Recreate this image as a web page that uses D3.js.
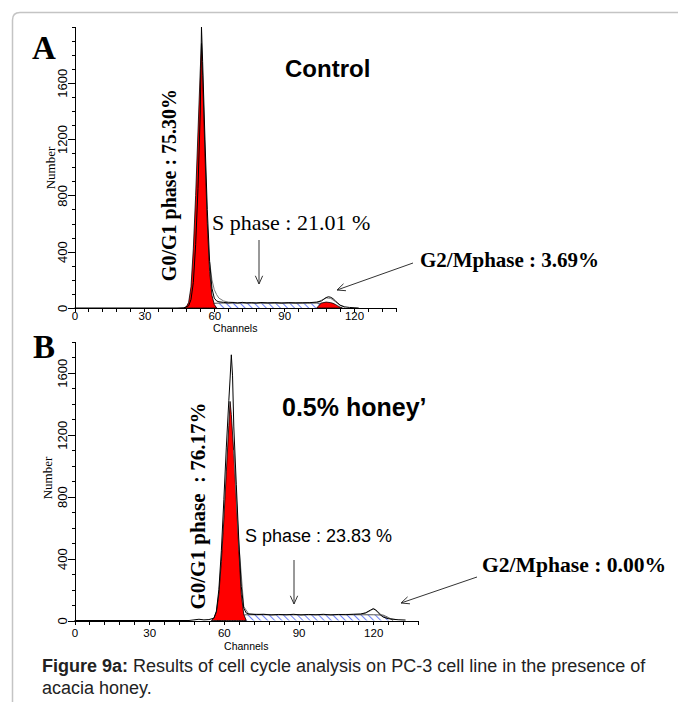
<!DOCTYPE html>
<html>
<head>
<meta charset="utf-8">
<title>Cell cycle histograms</title>
<script src="https://d3js.org/d3.v7.min.js"></script>
<style>
  body { margin: 0; background: #fff; }
  svg { display: block; }
  .axis path, .axis line { stroke: #000; shape-rendering: crispEdges; }
  .axis text { fill: #000; }
  .sans { font-family: "Liberation Sans", Arial, sans-serif; }
  .serif { font-family: "Liberation Serif", "Times New Roman", serif; }
</style>
</head>
<body>
<svg width="678" height="702"></svg>
<script>
// ---- panel A (control) ----
const ctrlDataCh    = [0, 44, 47, 49, 50, 51, 52, 53, 54, 54.5, 55, 56, 57, 58, 59, 60, 61, 62, 64, 66, 68, 70, 72, 74, 76, 78, 80, 83, 86, 89, 92, 95, 98, 101, 104, 106, 107, 108, 109, 110, 111, 112, 113, 114, 116, 118, 120, 122];
const ctrlDataCount = [0, 0, 2, 15, 60, 180, 450, 850, 1400, 1996, 1750, 1200, 700, 330, 140, 70, 50, 44, 40, 36, 39, 35, 40, 36, 38, 35, 39, 36, 38, 35, 38, 36, 37, 38, 42, 50, 62, 74, 80, 76, 66, 50, 35, 20, 8, 4, 2, 0];
const ctrlG1Ch      = [47, 48, 49, 50, 51, 52, 53, 54, 54.5, 55, 56, 57, 58, 59, 60, 61];
const ctrlG1Count   = [0, 8, 40, 150, 420, 800, 1250, 1700, 1880, 1650, 1100, 600, 260, 90, 25, 0];
const ctrlSCh       = [52, 54, 56, 58, 60, 62, 70, 80, 90, 100, 104, 106, 108, 110, 112];
const ctrlSCount    = [0, 5, 15, 27, 33, 35, 35, 35, 35, 35, 35, 33, 25, 10, 0];
const ctrlG2Ch      = [104, 105, 106, 108, 110, 111, 112, 113, 114, 115];
const ctrlG2Count   = [0, 20, 35, 42, 38, 33, 25, 15, 6, 0];
const ctrlFitCh     = [58, 59, 60, 61, 62, 64, 66, 70, 80, 90, 100, 104, 106, 108, 110, 112, 114, 116];
const ctrlFitCount  = [330, 200, 130, 95, 70, 50, 42, 38, 36, 36, 36, 38, 55, 72, 68, 45, 20, 4];

// ---- panel B (0.5% honey) ----
const honeyDataCh    = [0, 46, 48, 50, 52, 54, 56, 57, 58, 59, 60, 61, 62, 62.5, 63, 63.5, 64, 65, 66, 67, 68, 69, 70, 73, 76, 79, 82, 85, 88, 91, 94, 97, 100, 103, 106, 109, 112, 115, 117, 119, 120, 121, 122, 123, 124, 126, 128, 130, 133];
const honeyDataCount = [0, 0, 4, 8, 4, 6, 15, 60, 200, 450, 780, 1120, 1420, 1560, 1716, 1580, 1250, 880, 520, 220, 80, 48, 42, 38, 40, 36, 39, 37, 40, 36, 39, 37, 40, 36, 39, 38, 40, 42, 50, 68, 75, 68, 50, 35, 22, 12, 8, 5, 3];
const honeyG1Ch      = [55, 56, 57, 58, 59, 60, 61, 62, 62.5, 63, 64, 65, 66, 67, 68, 69];
const honeyG1Count   = [0, 15, 55, 170, 380, 650, 960, 1260, 1415, 1330, 1080, 780, 460, 170, 40, 0];
const honeySCh       = [57, 59, 61, 63, 65, 67, 69, 80, 90, 100, 110, 120, 124, 126, 128];
const honeySCount    = [0, 4, 10, 18, 27, 34, 37, 37, 37, 37, 37, 37, 35, 20, 0];
const honeyG2Ch      = [];
const honeyG2Count   = [];
const honeyFitCh     = [64, 66, 68, 70, 80, 100, 115, 117, 119, 120, 121, 123, 125, 127, 129];
const honeyFitCount  = [1100, 500, 90, 42, 38, 38, 40, 48, 65, 78, 70, 40, 20, 12, 6];

const yTickLabels = [0, 400, 800, 1200, 1600];
const xTickLabels = [0, 30, 60, 90, 120];

const zip = (a, b) => a.map((v, i) => [v, b[i]]);

const svg = d3.select("svg");

// hatch pattern for S phase
const defs = svg.append("defs");
defs.append("pattern")
  .attr("id", "hatch")
  .attr("patternUnits", "userSpaceOnUse")
  .attr("width", 5).attr("height", 5)
  .attr("patternTransform", "rotate(-45)")
  .append("line")
  .attr("x1", 0).attr("y1", 0).attr("x2", 0).attr("y2", 5)
  .attr("stroke", "#1c3cf0").attr("stroke-width", 1.3);

// outer frame (only top-left corner visible)
svg.append("path")
  .attr("d", "M12.5,702 L12.5,20 Q12.5,12.5 20,12.5 L678,12.5")
  .attr("fill", "none").attr("stroke", "#c4c4c4").attr("stroke-width", 1.5);

const panels = [
  {
    letter: "A", title: "Control",
    xr: [74.5, 396], yr: [308, 26.5], yMax: 2000, tickPad: 0,
    data: zip(ctrlDataCh, ctrlDataCount), g1: zip(ctrlG1Ch, ctrlG1Count),
    s: zip(ctrlSCh, ctrlSCount), g2: zip(ctrlG2Ch, ctrlG2Count), fit: zip(ctrlFitCh, ctrlFitCount),
    letterPos: [32, 59], titlePos: [285, 77], titleSize: 24,
    numberPos: [55, 168], channelsY: 332,
    g1Text: "G0/G1 phase : 75.30%", g1Pos: [176, 185], g1Size: 20,
    sText: "S phase : 21.01 %", sPos: [212, 230], sSerif: true, sSize: 22,
    sArrow: [[259, 240], [259, 284]],
    g2Text: "G2/Mphase : 3.69%", g2Pos: [420, 267], g2Size: 21,
    g2Arrow: [[413, 263], [337, 290]]
  },
  {
    letter: "B", title: "0.5% honey\u2019",
    xr: [74.5, 418], yr: [620.5, 341.8], yMax: 1800, tickPad: 4,
    data: zip(honeyDataCh, honeyDataCount), g1: zip(honeyG1Ch, honeyG1Count),
    s: zip(honeySCh, honeySCount), g2: zip(honeyG2Ch, honeyG2Count), fit: zip(honeyFitCh, honeyFitCount),
    letterPos: [33, 358], titlePos: [282, 416], titleSize: 25,
    numberPos: [52, 478], channelsY: 650,
    g1Text: "G0/G1 phase  : 76.17%", g1Pos: [205, 506], g1Size: 21,
    sText: "S phase : 23.83 %", sPos: [245, 542], sSerif: false, sSize: 18,
    sArrow: [[294, 560], [294, 604]],
    g2Text: "G2/Mphase : 0.00%", g2Pos: [482, 572], g2Size: 21.6,
    g2Arrow: [[477, 577], [401, 603]]
  }
];

function arrow(g, p0, p1) {
  const [x0, y0] = p0, [x1, y1] = p1;
  const a = Math.atan2(y1 - y0, x1 - x0);
  const len = 9, spread = 0.42;
  g.append("line")
    .attr("x1", x0).attr("y1", y0).attr("x2", x1).attr("y2", y1)
    .attr("stroke", "#333").attr("stroke-width", 1);
  g.append("path")
    .attr("d", `M${x1 - len * Math.cos(a - spread)},${y1 - len * Math.sin(a - spread)} L${x1},${y1} L${x1 - len * Math.cos(a + spread)},${y1 - len * Math.sin(a + spread)}`)
    .attr("fill", "none").attr("stroke", "#333").attr("stroke-width", 1);
}

panels.forEach(p => {
  const x = d3.scaleLinear().domain([0, 138]).range(p.xr);
  const y = d3.scaleLinear().domain([0, p.yMax]).range(p.yr);
  const g = svg.append("g");

  const area = d3.area().x(d => x(d[0])).y0(y(0)).y1(d => y(d[1]));
  const line = d3.line().x(d => x(d[0])).y(d => y(d[1]));

  // S phase (hatched)
  g.append("path").datum(p.s).attr("d", area)
    .attr("fill", "url(#hatch)").attr("stroke", "none");
  g.append("path").datum(p.s).attr("d", line)
    .attr("fill", "none").attr("stroke", "#555").attr("stroke-width", 1);

  // G0/G1 and G2/M fits (red)
  [p.g1, p.g2].filter(d => d.length).forEach(d => {
    g.append("path").datum(d).attr("d", area)
      .attr("fill", "#ff0000").attr("stroke", "#000").attr("stroke-width", 0.8);
  });

  // total model fit (grey) and raw histogram (black)
  g.append("path").datum(p.fit).attr("d", line)
    .attr("fill", "none").attr("stroke", "#7a7a7a").attr("stroke-width", 1);
  g.append("path").datum(p.data).attr("d", line)
    .attr("fill", "none").attr("stroke", "#000").attr("stroke-width", 1);

  // x axis
  const xa = g.append("g").attr("class", "axis sans")
    .attr("transform", `translate(0,${p.yr[0]})`)
    .call(d3.axisBottom(x).tickValues(d3.range(0, 139, 6))
      .tickFormat(d => xTickLabels.includes(d) ? d : "")
      .tickSize(4).tickSizeOuter(0).tickPadding(p.tickPad));
  xa.selectAll("text").attr("font-size", 11.5);

  // y axis: minor then major ticks
  g.append("g").attr("class", "axis")
    .attr("transform", `translate(${p.xr[0]},0)`)
    .call(d3.axisLeft(y).tickValues(d3.range(0, p.yMax + 1, 100)).tickFormat("").tickSize(3).tickSizeOuter(0));
  const ya = g.append("g").attr("class", "axis sans")
    .attr("transform", `translate(${p.xr[0]},0)`)
    .call(d3.axisLeft(y).tickValues(yTickLabels).tickFormat(d3.format("d")).tickSize(7).tickSizeOuter(0));
  ya.select(".domain").remove();
  ya.selectAll("text")
    .attr("transform", "rotate(-90)")
    .attr("x", 0).attr("y", -8).attr("dy", 0)
    .attr("text-anchor", "middle").attr("font-size", 13);

  // axis titles
  g.append("text").attr("class", "sans")
    .attr("x", (p.xr[0] + p.xr[1]) / 2).attr("y", p.channelsY)
    .attr("text-anchor", "middle").attr("font-size", 10.5)
    .text("Channels");
  g.append("text").attr("class", "serif")
    .attr("transform", `translate(${p.numberPos[0]},${p.numberPos[1]}) rotate(-90)`)
    .attr("text-anchor", "middle").attr("font-size", 13)
    .text("Number");

  // panel letter and title
  g.append("text").attr("class", "serif")
    .attr("x", p.letterPos[0]).attr("y", p.letterPos[1])
    .attr("font-size", 33).attr("font-weight", "bold").text(p.letter);
  g.append("text").attr("class", "sans")
    .attr("x", p.titlePos[0]).attr("y", p.titlePos[1])
    .attr("font-size", p.titleSize).attr("font-weight", "bold").text(p.title);

  // annotations
  g.append("text").attr("class", "serif")
    .attr("transform", `translate(${p.g1Pos[0]},${p.g1Pos[1]}) rotate(-90)`)
    .attr("text-anchor", "middle").attr("font-size", p.g1Size).attr("font-weight", "bold")
    .style("white-space", "pre")
    .text(p.g1Text);
  g.append("text").attr("class", p.sSerif ? "serif" : "sans")
    .attr("x", p.sPos[0]).attr("y", p.sPos[1])
    .attr("font-size", p.sSize).text(p.sText);
  arrow(g, p.sArrow[0], p.sArrow[1]);
  g.append("text").attr("class", "serif")
    .attr("x", p.g2Pos[0]).attr("y", p.g2Pos[1])
    .attr("font-size", p.g2Size).attr("font-weight", "bold").text(p.g2Text);
  arrow(g, p.g2Arrow[0], p.g2Arrow[1]);
});

// caption
const cap = svg.append("text").attr("class", "sans").attr("font-size", 18).attr("fill", "#222");
cap.append("tspan").attr("x", 42).attr("y", 672).attr("font-weight", "bold").text("Figure 9a:");
cap.append("tspan").text(" Results of cell cycle analysis on PC-3 cell line in the presence of");
cap.append("tspan").attr("x", 42).attr("y", 694).text("acacia honey.");
</script>
</body>
</html>
